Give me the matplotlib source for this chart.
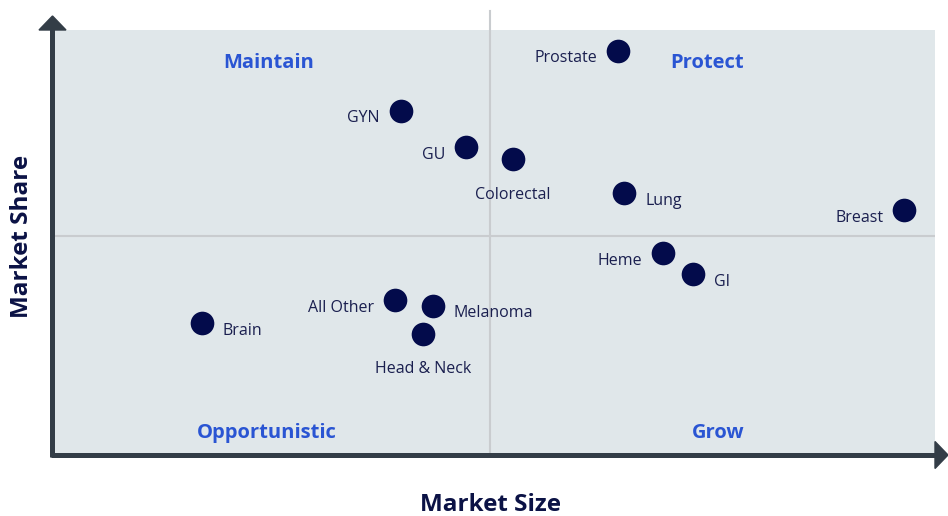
import matplotlib
matplotlib.use('Agg')
import matplotlib.pyplot as plt
from matplotlib.patches import Polygon

plt.rcParams.update({
    "font.family": ["Open Sans", "DejaVu Sans"],
    "font.size": 11.5,
})

# data (0-100 scale on both axes)
names = ["Prostate", "GYN", "GU", "Colorectal", "Lung", "Breast",
         "Heme", "GI", "All Other", "Melanoma", "Head & Neck", "Brain"]
market_size = [64.1, 39.5, 46.9, 52.2, 64.8, 96.5, 69.2, 72.6, 38.8, 43.1, 42.0, 17.0]
market_share = [95.1, 81.0, 72.5, 69.6, 61.6, 57.6, 47.5, 42.6, 36.4, 35.1, 28.5, 31.0]
label_side = ["left", "left", "left", "below", "right", "left",
              "left", "right", "left", "right", "below", "right"]

x_split = 49.6
y_split = 51.5

quadrants = ["Maintain", "Protect", "Opportunistic", "Grow"]
quad_x = [24.5, 74.2, 24.3, 75.5]
quad_y = [92.2, 92.2, 5.2, 5.2]

W, H = 948, 516
NAVY = '#030b4b'
TEXT = '#1a1f4f'
BLUE = '#2a55d3'
AXIS = '#333d47'
GRID = '#c9cccf'

fig = plt.figure(figsize=(W / 100, H / 100), dpi=100)
ax = fig.add_axes([52 / W, (H - 455) / H, 883 / W, 425 / H])
ax.set_facecolor('#e0e7ea')
ax.set_xlim(0, 100)
ax.set_ylim(0, 100)
ax.set_xticks([])
ax.set_yticks([])
for s in ax.spines.values():
    s.set_visible(False)

# quadrant dividers
ax.axhline(y_split, color=GRID, lw=1.5, zorder=1)
ax.axvline(x_split, ymin=0, ymax=(455 - 11) / 425, color=GRID, lw=1.5,
           zorder=1, clip_on=False)

ax.scatter(market_size, market_share, s=290, color=NAVY, zorder=3, linewidths=0)

offsets = {"left": ((-15, -5.5), 'right', 'center'),
           "right": ((15, -5.5), 'left', 'center'),
           "below": ((0, -25.5), 'center', 'center')}
for n, x, y, side in zip(names, market_size, market_share, label_side):
    off, ha, va = offsets[side]
    ax.annotate(n, (x, y), xytext=off, textcoords='offset points',
                ha=ha, va=va, color=TEXT, fontsize=11.5)

for q, x, y in zip(quadrants, quad_x, quad_y):
    ax.text(x, y, q, ha='center', va='center', color=BLUE,
            fontsize=14.5, fontweight='bold')

# axis arrows drawn in pixel coordinates on an overlay
ov = fig.add_axes([0, 0, 1, 1], facecolor='none')
ov.set_xlim(0, W)
ov.set_ylim(H, 0)
ov.axis('off')
ov.plot([52.5, 52.5], [457, 28], color=AXIS, lw=3.6, solid_capstyle='butt')
ov.plot([50.7, 937], [455, 455], color=AXIS, lw=3.6, solid_capstyle='butt')
ov.add_patch(Polygon([[39, 30], [66, 30], [52.5, 16]], closed=True, color=AXIS))
ov.add_patch(Polygon([[935, 441.5], [935, 468.5], [948, 455]], closed=True, color=AXIS))

fig.text(490 / W, 1 - 505 / H, "Market Size", ha='center', va='center',
         color='#0b1245', fontsize=17.5, fontweight='bold')
fig.text(22 / W, 1 - 236 / H, "Market Share", ha='center', va='center',
         rotation=90, color='#0b1245', fontsize=17.5, fontweight='bold')

fig.savefig('out.png', dpi=100, facecolor='white')
